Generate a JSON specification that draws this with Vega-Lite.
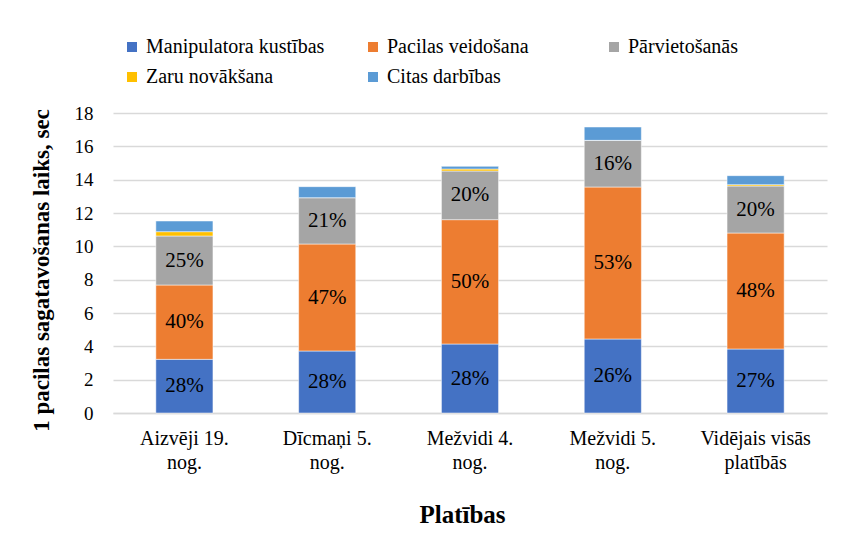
{
  "$schema": "https://vega.github.io/schema/vega-lite/v6.json",
  "autosize": {"type": "none"},
  "width": 714,
  "height": 300,
  "padding": {"left": 113, "top": 113, "right": 37, "bottom": 124},
  "background": "white",
  "config": {
    "font": "Liberation Serif",
    "view": {"stroke": null},
    "axis": {"labelFont": "Liberation Serif", "titleFont": "Liberation Serif", "labelColor": "#000000", "titleColor": "#000000"},
    "legend": {"labelFont": "Liberation Serif"}
  },
  "data": {
    "values": [
      {"area": "Aizvēji 19. nog.", "series": "Manipulatora kustības", "value": 3.22, "pct": "28%"},
      {"area": "Aizvēji 19. nog.", "series": "Pacilas veidošana", "value": 4.46, "pct": "40%"},
      {"area": "Aizvēji 19. nog.", "series": "Pārvietošanās", "value": 2.94, "pct": "25%"},
      {"area": "Aizvēji 19. nog.", "series": "Zaru novākšana", "value": 0.26},
      {"area": "Aizvēji 19. nog.", "series": "Citas darbības", "value": 0.64},
      {"area": "Dīcmaņi 5. nog.", "series": "Manipulatora kustības", "value": 3.72, "pct": "28%"},
      {"area": "Dīcmaņi 5. nog.", "series": "Pacilas veidošana", "value": 6.42, "pct": "47%"},
      {"area": "Dīcmaņi 5. nog.", "series": "Pārvietošanās", "value": 2.78, "pct": "21%"},
      {"area": "Dīcmaņi 5. nog.", "series": "Zaru novākšana", "value": 0.0},
      {"area": "Dīcmaņi 5. nog.", "series": "Citas darbības", "value": 0.66},
      {"area": "Mežvidi 4. nog.", "series": "Manipulatora kustības", "value": 4.14, "pct": "28%"},
      {"area": "Mežvidi 4. nog.", "series": "Pacilas veidošana", "value": 7.46, "pct": "50%"},
      {"area": "Mežvidi 4. nog.", "series": "Pārvietošanās", "value": 2.92, "pct": "20%"},
      {"area": "Mežvidi 4. nog.", "series": "Zaru novākšana", "value": 0.12},
      {"area": "Mežvidi 4. nog.", "series": "Citas darbības", "value": 0.16},
      {"area": "Mežvidi 5. nog.", "series": "Manipulatora kustības", "value": 4.44, "pct": "26%"},
      {"area": "Mežvidi 5. nog.", "series": "Pacilas veidošana", "value": 9.12, "pct": "53%"},
      {"area": "Mežvidi 5. nog.", "series": "Pārvietošanās", "value": 2.8, "pct": "16%"},
      {"area": "Mežvidi 5. nog.", "series": "Zaru novākšana", "value": 0.0},
      {"area": "Mežvidi 5. nog.", "series": "Citas darbības", "value": 0.8},
      {"area": "Vidējais visās platībās", "series": "Manipulatora kustības", "value": 3.84, "pct": "27%"},
      {"area": "Vidējais visās platībās", "series": "Pacilas veidošana", "value": 6.96, "pct": "48%"},
      {"area": "Vidējais visās platībās", "series": "Pārvietošanās", "value": 2.82, "pct": "20%"},
      {"area": "Vidējais visās platībās", "series": "Zaru novākšana", "value": 0.08},
      {"area": "Vidējais visās platībās", "series": "Citas darbības", "value": 0.54}
    ]
  },
  "transform": [
    {"calculate": "indexof(['Manipulatora kustības', 'Pacilas veidošana', 'Pārvietošanās', 'Zaru novākšana', 'Citas darbības'], datum.series)", "as": "k"},
    {"stack": "value", "groupby": ["area"], "sort": [{"field": "k", "order": "ascending"}], "as": ["v0", "v1"]}
  ],
  "encoding": {
    "x": {
      "field": "area", "type": "nominal", "sort": null,
      "scale": {"paddingInner": 0.6, "paddingOuter": 0.3},
      "title": "Platības",
      "axis": {
        "labelAngle": 0, "labelFontSize": 20, "labelLineHeight": 24, "labelPadding": 15,
        "labelExpr": "[slice(datum.label, 0, lastindexof(datum.label, ' ')), slice(datum.label, lastindexof(datum.label, ' ') + 1)]",
        "ticks": false, "domainColor": "#d9d9d9", "domainWidth": 1.5,
        "titleFontSize": 25, "titleFontWeight": "bold", "titlePadding": 30, "titleX": 349
      }
    }
  },
  "layer": [
    {
      "mark": {"type": "bar", "stroke": "white", "strokeWidth": 0.5},
      "encoding": {
        "y": {
          "field": "v0", "type": "quantitative",
          "scale": {"domain": [0, 18]},
          "title": "1 pacilas sagatavošanas laiks, sec",
          "axis": {
            "values": [0, 2, 4, 6, 8, 10, 12, 14, 16, 18],
            "labelFontSize": 19, "labelPadding": 20, "ticks": false, "domain": false,
            "gridColor": "#d9d9d9", "gridWidth": 1.5,
            "titleFontSize": 23, "titleFontWeight": "bold", "titlePadding": 21, "titleY": 157
          }
        },
        "y2": {"field": "v1"},
        "color": {
          "field": "series", "type": "nominal",
          "scale": {
            "domain": ["Manipulatora kustības", "Pacilas veidošana", "Pārvietošanās", "Zaru novākšana", "Citas darbības"],
            "range": ["#4472C4", "#ED7D31", "#A5A5A5", "#FFC000", "#5B9BD5"]
          },
          "legend": {
            "title": null, "orient": "none", "legendX": 9, "legendY": -76,
            "direction": "horizontal", "columns": 3, "gridAlign": "all",
            "symbolType": "square", "symbolSize": 100, "symbolStrokeWidth": 0,
            "labelFont": "Liberation Serif", "labelFontSize": 20, "labelColor": "#000000", "labelLimit": 0,
            "columnPadding": 38, "rowPadding": 10, "labelOffset": 4
          }
        }
      }
    },
    {
      "transform": [
        {"filter": "isValid(datum.pct)"},
        {"fold": ["v0", "v1"], "as": ["edge", "ev"]}
      ],
      "mark": {"type": "text", "font": "Liberation Serif", "fontSize": 21, "baseline": "middle", "color": "#000000"},
      "encoding": {
        "y": {
          "aggregate": "mean", "field": "ev", "type": "quantitative",
          "title": "1 pacilas sagatavošanas laiks, sec",
          "axis": {
            "values": [0, 2, 4, 6, 8, 10, 12, 14, 16, 18],
            "labelFontSize": 19, "labelPadding": 20, "ticks": false, "domain": false,
            "gridColor": "#d9d9d9", "gridWidth": 1.5,
            "titleFontSize": 23, "titleFontWeight": "bold", "titlePadding": 21, "titleY": 157
          }
        },
        "detail": {"field": "series"},
        "text": {"field": "pct", "type": "nominal"}
      }
    }
  ]
}
